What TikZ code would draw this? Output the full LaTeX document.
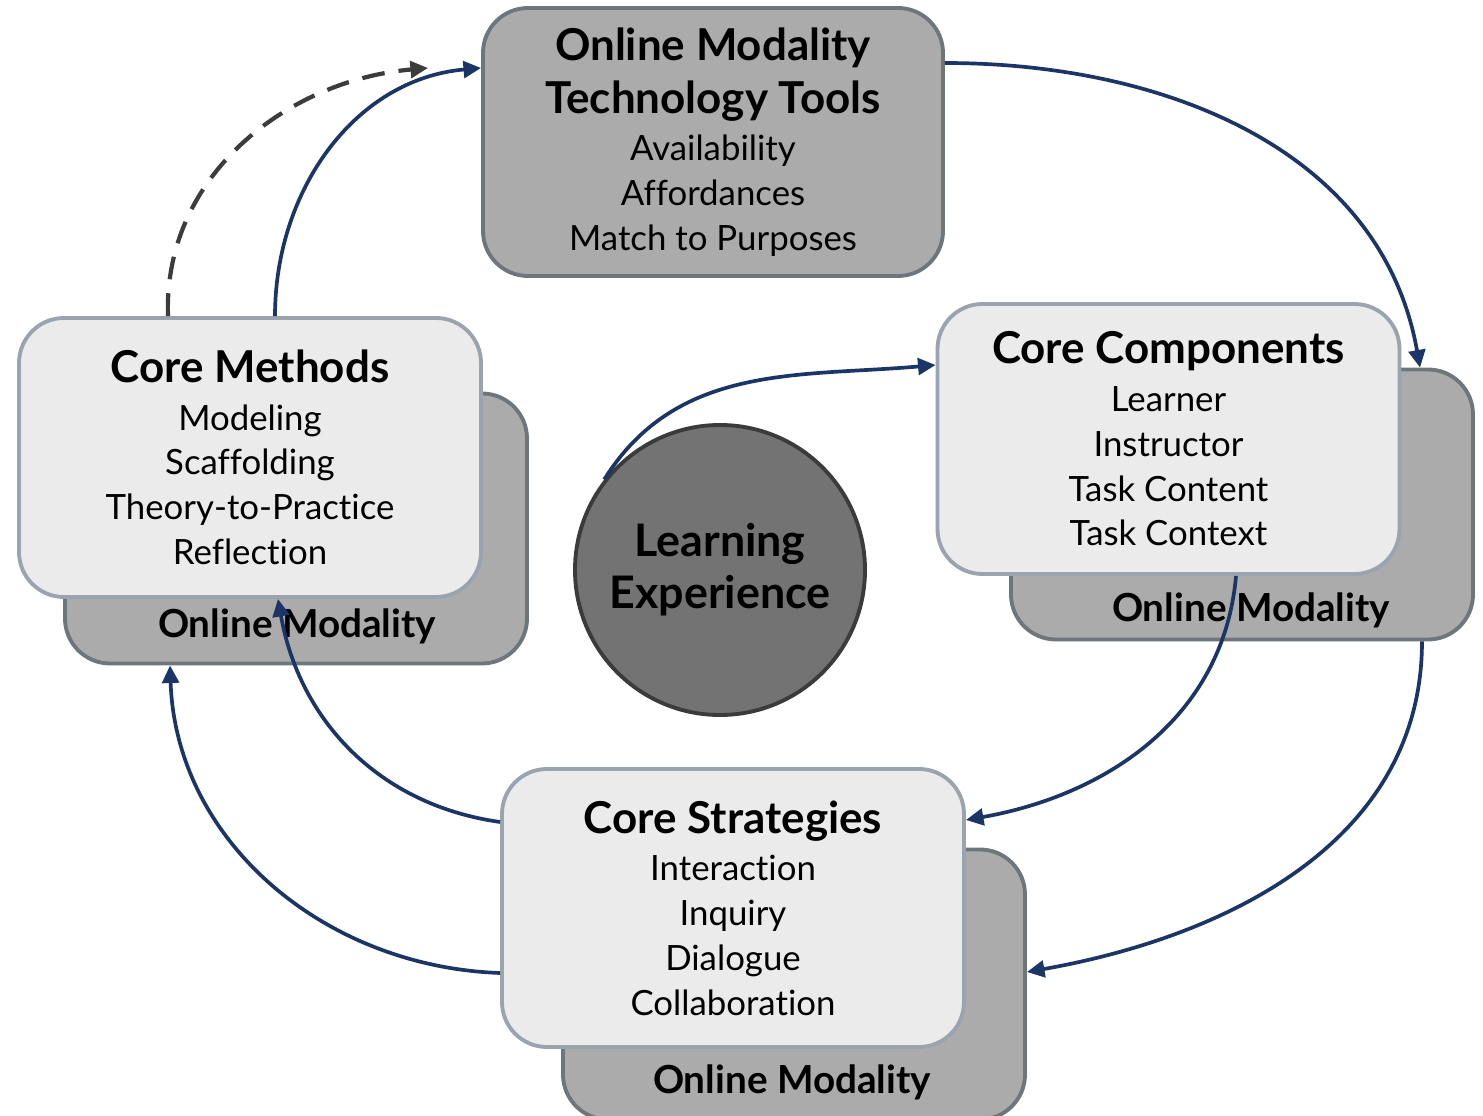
\documentclass[tikz,border=0pt]{standalone}
\usepackage{fontspec}
\setmainfont{Lato}[Ligatures={NoCommon,NoRare}]
\usetikzlibrary{arrows.meta}
\definecolor{navy}{HTML}{1B3566}
\definecolor{toolgray}{HTML}{ABABAB}
\definecolor{toolline}{HTML}{6E757B}
\definecolor{paper}{HTML}{EBEBEB}
\definecolor{paperline}{HTML}{9BA4AE}
\definecolor{hubgray}{HTML}{737373}
\definecolor{hubline}{HTML}{3B3B3B}
\definecolor{dashgray}{HTML}{3C3C3C}
\newcommand{\hd}[1]{{\bfseries\fontsize{25}{27}\selectfont #1}}
\begin{document}
\begin{tikzpicture}[
  every node/.style={font=\fontsize{19.8}{25.5}\selectfont,align=center},
  box/.style={rounded corners=0.9cm,line width=2.2pt,minimum width=9.24cm,minimum height=5.4cm},
  back/.style={box,draw=toolline,fill=toolgray},
  front/.style={box,draw=paperline,fill=paper},
  modlbl/.style={font=\bfseries\fontsize{22}{24}\selectfont},
  link/.style={draw=navy,line width=2.1pt,-{Triangle[length=10pt,width=9.5pt]}}]
\useasboundingbox (0,0) rectangle (29.66,-22.32);
\node[back,minimum width=9.2cm,minimum height=5.36cm] (tools) at (14.26,-2.84)
 {\hd{Online Modality}\\[4.5pt]\hd{Technology Tools}\\[1.5pt]
  Availability\\Affordances\\Match to Purposes};
% shadow cards carrying the modality
\foreach \name/\x/\y/\lx/\ly in {methb/5.92/-10.57/5.94/-12.52,
  compb/24.84/-10.09/25.02/-12.20,stratb/15.88/-19.69/15.84/-21.64}{
 \node[back] (\name) at (\x,\y) {};
 \node[modlbl] (\name-lbl) at (\lx,\ly) {Online Modality};}
\node[front,minimum height=5.58cm] (meth) at (5.0,-9.15)
 {\hd{Core Methods}\\[1.5pt]Modeling\\Scaffolding\\Theory-to-Practice\\Reflection};
\node[front] (comp) at (23.37,-8.78)
 {\hd{Core Components}\\[1.5pt]Learner\\Instructor\\Task Content\\Task Context};
\node[front,minimum height=5.56cm] (strat) at (14.66,-18.16)
 {\hd{Core Strategies}\\[1.5pt]Interaction\\Inquiry\\Dialogue\\Collaboration};
\node[circle,draw=hubline,fill=hubgray,line width=2.2pt,minimum size=5.8cm,
 font=\bfseries\fontsize{25.5}{29.5}\selectfont] (hub) at (14.4,-11.4) {Learning\\Experience};
% the cycle
\coordinate (dashend) at (8.56,-1.36);
\draw[link] ([xshift=0.5cm]meth.north) to[out=90,in=185] ([yshift=1.48cm]tools.west);
\draw[link,draw=dashgray,line width=2.4pt,dash pattern=on 13pt off 8pt] ([xshift=-1.64cm]meth.north)
 to[out=92,in=185] (dashend);
\draw[link] ([yshift=1.58cm]tools.east) to[out=0,in=100] ([xshift=3.56cm]compb.north);
\draw[link] (hub.142) to[out=58,in=185] ([yshift=1.48cm]comp.west);
\draw[link] ([xshift=1.35cm]comp.south) to[out=-95,in=10] ([yshift=1.76cm]strat.east);
\draw[link] ([xshift=3.6cm]compb.south) to[out=-90,in=10] ([yshift=0.25cm]stratb.east);
\draw[link] ([yshift=1.72cm]strat.west) to[out=172,in=-80] ([xshift=0.56cm]meth.south);
\draw[link] ([yshift=-1.3cm]strat.west) to[out=178,in=-88] ([xshift=-2.52cm]methb.south);
\end{tikzpicture}
\end{document}
